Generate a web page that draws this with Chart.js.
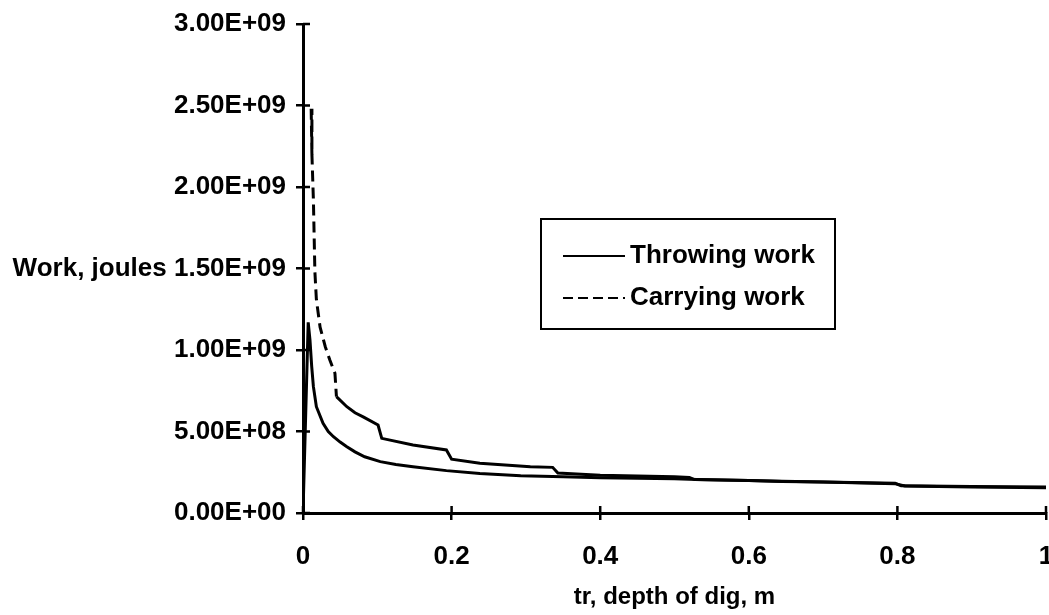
<!DOCTYPE html>
<html>
<head>
<meta charset="utf-8">
<title>Work vs depth of dig</title>
<script src="https://cdn.jsdelivr.net/npm/chart.js@4.4.1/dist/chart.umd.min.js"></script>
<style>
  html, body { margin: 0; padding: 0; background: #fff; }
  canvas { display: block; }
</style>
</head>
<body>
<canvas id="workChart" width="1049" height="615"></canvas>
<script>
// depth of dig (m) and work (J) for the two work components
const depthThrow = [0, 0.007, 0.0094, 0.0117, 0.014, 0.018, 0.027, 0.034, 0.041, 0.05, 0.059, 0.07, 0.083, 0.104, 0.125, 0.148, 0.193, 0.238, 0.293, 0.35, 0.4, 0.5, 0.53, 0.6, 0.645, 0.7, 0.797, 0.81, 0.9, 1.0]
const workThrow = [0, 1.17e9, 1.06e9, 0.9e9, 0.775e9, 0.652e9, 0.55e9, 0.5e9, 0.468e9, 0.435e9, 0.407e9, 0.375e9, 0.345e9, 0.315e9, 0.298e9, 0.284e9, 0.26e9, 0.243e9, 0.228e9, 0.222e9, 0.216e9, 0.21e9, 0.205e9, 0.2e9, 0.195e9, 0.19e9, 0.18e9, 0.166e9, 0.16e9, 0.155e9]

const depthCarry = [0.011, 0.012, 0.014, 0.016, 0.018, 0.023, 0.03, 0.036, 0.043, 0.045, 0.059, 0.07, 0.081, 0.101, 0.106, 0.148, 0.193, 0.2, 0.238, 0.306, 0.336, 0.343, 0.4, 0.5, 0.52, 0.527, 0.6, 0.645, 0.7, 0.797, 0.805, 0.9, 1.0]
const workCarry = [2.48e9, 2.2e9, 1.92e9, 1.48e9, 1.31e9, 1.14e9, 1.02e9, 0.94e9, 0.857e9, 0.714e9, 0.652e9, 0.615e9, 0.59e9, 0.54e9, 0.458e9, 0.417e9, 0.387e9, 0.33e9, 0.305e9, 0.284e9, 0.28e9, 0.245e9, 0.232e9, 0.222e9, 0.218e9, 0.205e9, 0.2e9, 0.193e9, 0.19e9, 0.182e9, 0.167e9, 0.163e9, 0.16e9]

const seriesNames = ['Throwing work', 'Carrying work']
const xTickLabels = ['0', '0.2', '0.4', '0.6', '0.8', '1']
const yTickLabels = ['0.00E+00', '5.00E+08', '1.00E+09', '1.50E+09', '2.00E+09', '2.50E+09', '3.00E+09']
const yAxisName = 'Work, joules'
const xAxisName = 'tr, depth of dig, m'

const FONT = '"Liberation Sans", Arial, Helvetica, sans-serif'
const DASH = [10, 5]

Chart.defaults.font.family = FONT
Chart.defaults.font.weight = 'bold'
Chart.defaults.color = '#000'

const toPoints = (xs, ys) => xs.map((x, i) => ({ x: x, y: ys[i] }))

// tick marks that cross the axis line: the inner half is added here
const crossTicks = {
    id: 'crossTicks',
    afterDatasetsDraw(chart) {
        const { ctx, chartArea, scales } = chart
        ctx.save()
        ctx.strokeStyle = '#000'
        ctx.lineWidth = 2.5
        ctx.beginPath()
        scales.x.ticks.forEach(t => {
            const px = scales.x.getPixelForValue(t.value)
            ctx.moveTo(px, chartArea.bottom)
            ctx.lineTo(px, chartArea.bottom - 7)
        })
        scales.y.ticks.forEach(t => {
            const py = scales.y.getPixelForValue(t.value)
            ctx.moveTo(chartArea.left, py)
            ctx.lineTo(chartArea.left + 7, py)
        })
        ctx.stroke()
        ctx.restore()
    },
}

// boxed legend sitting inside the plot
const boxLegend = {
    id: 'boxLegend',
    afterDraw(chart) {
        const { ctx } = chart
        const box = { left: 541, top: 219, width: 294, height: 110 }
        ctx.save()
        ctx.strokeStyle = '#000'
        ctx.lineWidth = 2
        ctx.strokeRect(box.left, box.top, box.width, box.height)
        ctx.font = 'bold 26px ' + FONT
        ctx.fillStyle = '#000'
        ctx.textBaseline = 'middle'
        chart.data.datasets.forEach((ds, i) => {
            const y = box.top + 37 + i * 42
            ctx.beginPath()
            ctx.lineWidth = 2
            ctx.setLineDash(ds.legendDash || [])
            ctx.moveTo(box.left + 22, y)
            ctx.lineTo(box.left + 84, y)
            ctx.stroke()
            ctx.setLineDash([])
            ctx.fillText(ds.label, box.left + 89, y)
        })
        ctx.restore()
    },
}

const ctx = document.getElementById('workChart').getContext('2d')

new Chart(ctx, {
    type: 'line',
    data: {
        datasets: [
            {
                label: seriesNames[0],
                data: toPoints(depthThrow, workThrow),
                borderColor: '#000',
                borderWidth: 3,
                pointRadius: 0,
                tension: 0,
                fill: false,
                legendDash: [],
            },
            {
                label: seriesNames[1],
                data: toPoints(depthCarry, workCarry),
                borderColor: '#000',
                borderWidth: 3,
                pointRadius: 0,
                tension: 0,
                fill: false,
                legendDash: DASH,
                // the dashes only show on the steep part near the axis
                segment: {
                    borderDash: c => (c.p0.parsed.x < 0.044 ? [11, 6] : []),
                },
            },
        ],
    },
    options: {
        responsive: false,
        animation: false,
        events: [],
        layout: { padding: { top: 24, right: 3, bottom: 0, left: 0 } },
        plugins: {
            legend: { display: false },
            tooltip: { enabled: false },
        },
        scales: {
            x: {
                type: 'linear',
                min: 0,
                max: 1,
                ticks: {
                    stepSize: 0.2,
                    autoSkip: false,
                    maxRotation: 0,
                    padding: 21,
                    font: { size: 26, weight: 'bold' },
                    callback: (v, i) => xTickLabels[i],
                },
                grid: {
                    drawOnChartArea: false,
                    drawTicks: true,
                    tickLength: 7,
                    color: '#000',
                    lineWidth: 2.5,
                },
                border: { display: true, color: '#000', width: 3 },
                title: {
                    display: true,
                    text: xAxisName,
                    font: { size: 24, weight: 'bold' },
                    padding: { top: 0, bottom: 3 },
                },
                afterFit(scale) {
                    scale.height = 102
                    scale.paddingLeft = 0
                    scale.paddingRight = 0
                },
            },
            y: {
                min: 0,
                max: 3e9,
                ticks: {
                    stepSize: 5e8,
                    padding: 10,
                    font: { size: 26, weight: 'bold' },
                    callback: (v, i) => (i === 3 ? yAxisName + ' ' + yTickLabels[i] : yTickLabels[i]),
                },
                grid: {
                    drawOnChartArea: false,
                    drawTicks: true,
                    tickLength: 7,
                    color: '#000',
                    lineWidth: 2.5,
                },
                border: { display: true, color: '#000', width: 3 },
                afterFit(scale) {
                    scale.width = 303
                    scale.paddingTop = 0
                    scale.paddingBottom = 0
                },
            },
        },
    },
    plugins: [crossTicks, boxLegend],
})
</script>
</body>
</html>
